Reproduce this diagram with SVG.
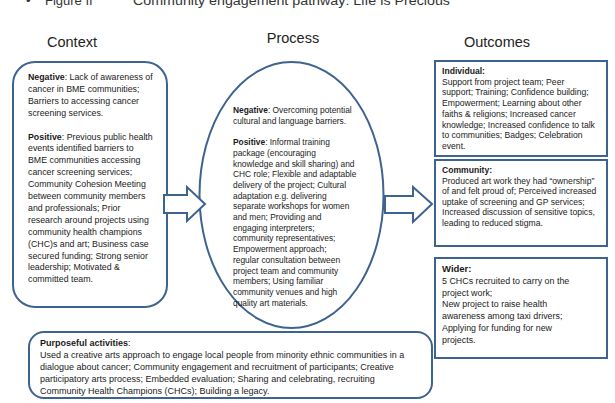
<svg xmlns="http://www.w3.org/2000/svg" width="615" height="403" viewBox="0 0 615 403">
<style>
.box{fill:#fff;stroke:#3d6391;stroke-width:2}
.arr{fill:#fff;stroke:#3d6391;stroke-width:2;stroke-linejoin:miter}
.hd{font-family:"Liberation Sans",Arial,sans-serif;font-size:14.5px;fill:#222}
.t{font-family:"Liberation Sans",Arial,sans-serif;font-size:8.6px;fill:#1a1a1a}
.tc{font-family:"Liberation Sans",Arial,sans-serif;font-size:8.8px;fill:#1a1a1a}
.tq{font-family:"Liberation Sans",Arial,sans-serif;font-size:9px;fill:#1a1a1a}
.tp{font-family:"Liberation Sans",Arial,sans-serif;font-size:8.4px;fill:#1a1a1a}
.b{font-weight:bold}
</style>
<rect width="615" height="403" fill="#fff"/>
<g id="title">
<text x="26" y="5" class="hd" style="font-size:13px;fill:#333">•</text>
<text x="45" y="5" class="hd" style="font-size:13px;fill:#333">Figure II</text>
<text x="133" y="5" class="hd" style="font-size:13px;fill:#333" textLength="317" lengthAdjust="spacingAndGlyphs">Community engagement pathway: Life is Precious</text>
</g>
<g id="headers">
<text x="72" y="47" class="hd" text-anchor="middle">Context</text>
<text x="293" y="43" class="hd" text-anchor="middle">Process</text>
<text x="497" y="47" class="hd" text-anchor="middle">Outcomes</text>
</g>
<g id="context">
<rect class="box" x="13" y="62" width="154" height="245" rx="22"/>
<text class="tc">
<tspan x="28" y="80"><tspan class="b">Negative</tspan>: Lack of awareness of</tspan>
<tspan x="28" y="91.9">cancer in BME communities;</tspan>
<tspan x="28" y="103.8">Barriers to accessing cancer</tspan>
<tspan x="28" y="115.7">screening services.</tspan>
<tspan x="28" y="139.5"><tspan class="b">Positive</tspan>: Previous public health</tspan>
<tspan x="28" y="151.4">events identified barriers to</tspan>
<tspan x="28" y="163.3">BME communities accessing</tspan>
<tspan x="28" y="175.2">cancer screening services;</tspan>
<tspan x="28" y="187.1">Community Cohesion Meeting</tspan>
<tspan x="28" y="199">between community members</tspan>
<tspan x="28" y="210.9">and professionals; Prior</tspan>
<tspan x="28" y="222.8">research around projects using</tspan>
<tspan x="28" y="234.7">community health champions</tspan>
<tspan x="28" y="246.6">(CHC)s and art; Business case</tspan>
<tspan x="28" y="258.5">secured funding; Strong senior</tspan>
<tspan x="28" y="270.4">leadership; Motivated &amp;</tspan>
<tspan x="28" y="282.3">committed team.</tspan>
</text>
</g>
<g id="process">
<ellipse class="box" cx="291.5" cy="195" rx="92" ry="133"/>
<text class="tp">
<tspan x="233" y="113"><tspan class="b">Negative</tspan>: Overcoming potential</tspan>
<tspan x="233" y="123.7">cultural and language barriers.</tspan>
<tspan x="233" y="145.1"><tspan class="b">Positive</tspan>: Informal training</tspan>
<tspan x="233" y="155.8">package (encouraging</tspan>
<tspan x="233" y="166.5">knowledge and skill sharing) and</tspan>
<tspan x="233" y="177.2">CHC role; Flexible and adaptable</tspan>
<tspan x="233" y="187.9">delivery of the project; Cultural</tspan>
<tspan x="233" y="198.6">adaptation e.g. delivering</tspan>
<tspan x="233" y="209.3">separate workshops for women</tspan>
<tspan x="233" y="220">and men; Providing and</tspan>
<tspan x="233" y="230.7">engaging interpreters;</tspan>
<tspan x="233" y="241.4">community representatives;</tspan>
<tspan x="233" y="252.1">Empowerment approach;</tspan>
<tspan x="233" y="262.8">regular consultation between</tspan>
<tspan x="233" y="273.5">project team and community</tspan>
<tspan x="233" y="284.2">members; Using familiar</tspan>
<tspan x="233" y="294.9">community venues and high</tspan>
<tspan x="233" y="305.6">quality art materials.</tspan>
</text>
</g>
<g id="connectors">
<polygon class="arr" points="164,195 187,195 187,187 205,204 187,221 187,213 164,213"/>
<polygon class="arr" points="385,196 413,196 413,187 432,204 413,222 413,213 385,213"/>
</g>
<g id="individual">
<rect class="box" x="435" y="61" width="172" height="95"/>
<text class="t">
<tspan x="442" y="74" class="b">Individual:</tspan>
<tspan x="442" y="84.7">Support from project team; Peer</tspan>
<tspan x="442" y="95.4">support; Training; Confidence building;</tspan>
<tspan x="442" y="106.1">Empowerment; Learning about other</tspan>
<tspan x="442" y="116.8">faiths &amp; religions; Increased cancer</tspan>
<tspan x="442" y="127.5">knowledge; Increased confidence to talk</tspan>
<tspan x="442" y="138.2">to communities; Badges; Celebration</tspan>
<tspan x="442" y="148.9">event.</tspan>
</text>
</g>
<g id="community">
<rect class="box" x="435" y="160" width="172" height="86"/>
<text class="t">
<tspan x="442" y="173" class="b">Community:</tspan>
<tspan x="442" y="183.6">Produced art work they had “ownership”</tspan>
<tspan x="442" y="194.2">of and felt proud of; Perceived increased</tspan>
<tspan x="442" y="204.8">uptake of screening and GP services;</tspan>
<tspan x="442" y="215.4">Increased discussion of sensitive topics,</tspan>
<tspan x="442" y="226">leading to reduced stigma.</tspan>
</text>
</g>
<g id="wider">
<rect class="box" x="435" y="258" width="172" height="100"/>
<text class="t" style="font-size:8.9px">
<tspan x="442" y="272" class="b" style="font-size:9.5px">Wider:</tspan>
<tspan x="442" y="283.8">5 CHCs recruited to carry on the</tspan>
<tspan x="442" y="295.6">project work;</tspan>
<tspan x="442" y="307.4">New project to raise health</tspan>
<tspan x="442" y="319.2">awareness among taxi drivers;</tspan>
<tspan x="442" y="331">Applying for funding for new</tspan>
<tspan x="442" y="342.8">projects.</tspan>
</text>
</g>
<g id="purposeful">
<rect class="box" x="29" y="332" width="403" height="66" rx="15"/>
<text class="tq">
<tspan x="40" y="346"><tspan class="b">Purposeful activities</tspan>:</tspan>
<tspan x="40" y="358">Used a creative arts approach to engage local people from minority ethnic communities in a</tspan>
<tspan x="40" y="370">dialogue about cancer; Community engagement and recruitment of participants; Creative</tspan>
<tspan x="40" y="382">participatory arts process; Embedded evaluation; Sharing and celebrating, recruiting</tspan>
<tspan x="40" y="394">Community Health Champions (CHCs); Building a legacy.</tspan>
</text>
</g>
</svg>
